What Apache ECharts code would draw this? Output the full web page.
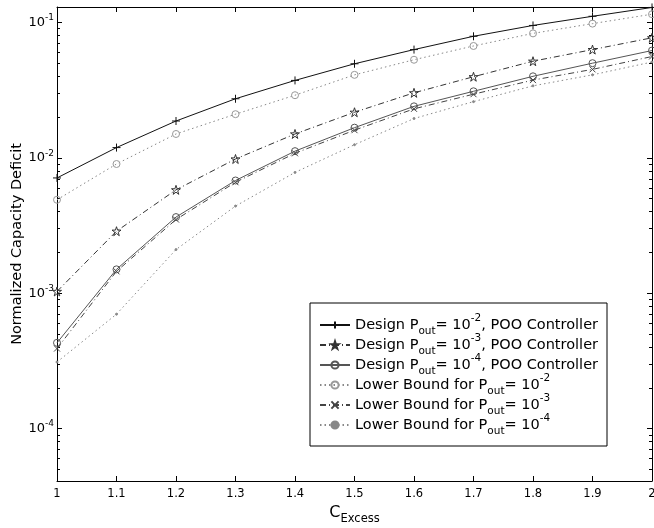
<!DOCTYPE html>
<html><head><meta charset="utf-8">
<script src="https://cdn.jsdelivr.net/npm/echarts@6/dist/echarts.min.js"></script>
<style>html,body{margin:0;padding:0;background:#fff}#c{width:654px;height:528px}</style>
</head><body><div id="c"></div>
<script>
const xValues = [1, 1.1, 1.2, 1.3, 1.4, 1.5, 1.6, 1.7, 1.8, 1.9, 2];
const design2 = [7.1e-3, 1.19e-2, 1.87e-2, 2.73e-2, 3.73e-2, 4.95e-2, 6.3e-2, 7.9e-2, 9.5e-2, 1.11e-1, 1.29e-1];
const design3 = [1.03e-3, 2.87e-3, 5.8e-3, 9.8e-3, 1.5e-2, 2.17e-2, 3.02e-2, 3.97e-2, 5.17e-2, 6.3e-2, 7.7e-2];
const design4 = [4.3e-4, 1.5e-3, 3.65e-3, 6.8e-3, 1.12e-2, 1.67e-2, 2.4e-2, 3.1e-2, 4.0e-2, 5.0e-2, 6.2e-2];
const lower2 = [4.9e-3, 9.0e-3, 1.5e-2, 2.1e-2, 2.9e-2, 4.1e-2, 5.3e-2, 6.7e-2, 8.3e-2, 9.8e-2, 1.15e-1];
const lower3 = [3.9e-4, 1.45e-3, 3.5e-3, 6.6e-3, 1.08e-2, 1.6e-2, 2.3e-2, 2.95e-2, 3.75e-2, 4.5e-2, 5.6e-2];
const lower4 = [3.1e-4, 7.0e-4, 2.1e-3, 4.4e-3, 7.8e-3, 1.25e-2, 1.95e-2, 2.6e-2, 3.4e-2, 4.1e-2, 5.1e-2];
const yMajorTicks = [1e-4, 1e-3, 1e-2, 1e-1];
const yMinorMult = [2, 3, 4, 5, 6, 7, 8, 9];
const xTickLabels = ['1', '1.1', '1.2', '1.3', '1.4', '1.5', '1.6', '1.7', '1.8', '1.9', '2'];
const seriesNames = ['d2', 'd3', 'd4', 'l2', 'l3', 'l4'];
const legendText = {
  d2: 'Design P{sub|out}= 10{sup|-2}, POO Controller',
  d3: 'Design P{sub|out}= 10{sup|-3}, POO Controller',
  d4: 'Design P{sub|out}= 10{sup|-4}, POO Controller',
  l2: 'Lower Bound for P{sub|out}= 10{sup|-2}',
  l3: 'Lower Bound for P{sub|out}= 10{sup|-3}',
  l4: 'Lower Bound for P{sub|out}= 10{sup|-4}'
};

const yMin = 4.1e-5, yMax = 0.13;
const lMin = Math.log10(yMin), lMax = Math.log10(yMax);
const majorLog = yMajorTicks.map(v => Math.log10(v));
const minorLog = [];
[1e-5, 1e-4, 1e-3, 1e-2, 1e-1].forEach(d => yMinorMult.forEach(m => {
  const v = m * d;
  if (v >= yMin && v <= yMax) minorLog.push(Math.log10(v));
}));

const FONT = 'DejaVu Sans, Liberation Sans, sans-serif';
const plus = 'path://M5,0V10M0,5H10';
const star = 'path://M5,0L6.2,3.8L10,3.8L6.9,6.1L8.1,10L5,7.6L1.9,10L3.1,6.1L0,3.8L3.8,3.8Z';
const cross = 'path://M0,0L10,10M10,0L0,10';
const ring = 'path://M10,5A5,5 0 1 1 0,5A5,5 0 1 1 10,5Z';

function mk(name, data, color, lineType, symbol, size, fill, mcolor) {
  return {
    name, type: 'line', xAxisIndex: 0, yAxisIndex: 0,
    data: xValues.map((x, i) => [x, data[i]]),
    symbol, symbolSize: size, showSymbol: true,
    lineStyle: { color, width: 1, type: lineType },
    itemStyle: { color: fill, borderColor: mcolor || color, borderWidth: 1 },
    emphasis: { disabled: true }, z: 3
  };
}

const clear = 'rgba(255,255,255,0)';
const series = [
  mk('d2', design2, '#111', 'solid', plus, 8, '#111'),
  mk('d3', design3, '#333', [6, 3, 1, 3], star, 9, clear),
  mk('d4', design4, '#555', 'solid', ring, 7, clear, '#555'),
  mk('l2', lower2, '#888', [1.5, 3], ring, 7, clear, '#999'),
  mk('l3', lower3, '#444', [6, 3, 1, 3], cross, 6, '#444'),
  mk('l4', lower4, '#888', [1.5, 3], 'circle', 2, '#888')
];

function tickAxis(pos, ticks, len, withLabels) {
  return {
    type: 'value', min: lMin, max: lMax, position: pos,
    axisLine: { show: false },
    axisTick: { show: true, inside: true, length: len, customValues: ticks, lineStyle: { color: '#000' } },
    axisLabel: withLabels ? {
      show: true, customValues: majorLog, margin: 3, color: '#000', fontFamily: FONT, fontSize: 13, lineHeight: 18,
      formatter: v => '10{s|' + Math.round(v) + '}',
      rich: { s: { fontSize: 9, fontFamily: FONT, color: '#000', lineHeight: 9, verticalAlign: 'top' } }
    } : { show: false },
    splitLine: { show: false }
  };
}

const option = {
  animation: false,
  backgroundColor: '#fff',
  grid: { left: 57, right: 2, top: 7, bottom: 47, show: false, outerBoundsMode: 'none', containLabel: false },
  xAxis: [
    {
      type: 'value', min: 1, max: 2, interval: 0.1, position: 'bottom',
      axisLine: { onZero: false, lineStyle: { color: '#000' } },
      axisTick: { inside: true, length: 5, lineStyle: { color: '#000' } },
      axisLabel: { color: '#000', fontFamily: FONT, fontSize: 11.5, margin: 7,
        formatter: v => xTickLabels[Math.round((v - 1) * 10)] },
      splitLine: { show: false },
      name: 'C{s|Excess}', nameLocation: 'middle', nameGap: 18,
      nameTextStyle: { color: '#000', fontFamily: FONT, fontSize: 16,
        rich: { s: { fontSize: 11.5, fontFamily: FONT, color: '#000', padding: [12, 0, 0, 0] } } }
    },
    {
      type: 'value', min: 1, max: 2, interval: 0.1, position: 'top',
      axisLine: { onZero: false, lineStyle: { color: '#000' } },
      axisTick: { inside: true, length: 5, lineStyle: { color: '#000' } },
      axisLabel: { show: false }, splitLine: { show: false }
    }
  ],
  yAxis: [
    {
      type: 'log', logBase: 10, min: yMin, max: yMax, position: 'left',
      axisLine: { show: true, lineStyle: { color: '#000' } },
      axisTick: { show: false }, axisLabel: { show: false }, splitLine: { show: false },
      name: 'Normalized Capacity Deficit', nameLocation: 'middle', nameGap: 32, nameRotate: 90,
      nameTextStyle: { color: '#000', fontFamily: FONT, fontSize: 14.5 }
    },
    {
      type: 'log', logBase: 10, min: yMin, max: yMax, position: 'right',
      axisLine: { show: true, lineStyle: { color: '#000' } },
      axisTick: { show: false }, axisLabel: { show: false }, splitLine: { show: false }
    },
    tickAxis('left', majorLog, 5, true),
    tickAxis('left', minorLog, 3, false),
    tickAxis('right', majorLog, 5, false),
    tickAxis('right', minorLog, 3, false)
  ],
  legend: {
    data: seriesNames, orient: 'vertical', left: 310, top: 303,
    backgroundColor: '#fff', borderColor: '#000', borderWidth: 1,
    padding: [10, 9, 9, 9], itemGap: -4, itemWidth: 30, itemHeight: 9,
    selectedMode: false,
    formatter: n => legendText[n],
    textStyle: { color: '#000', fontFamily: FONT, fontSize: 14.5, lineHeight: 24,
      rich: {
        sub: { fontSize: 10.5, fontFamily: FONT, color: '#000', lineHeight: 10, verticalAlign: 'bottom' },
        sup: { fontSize: 10.5, fontFamily: FONT, color: '#000', lineHeight: 10, verticalAlign: 'top' }
      } }
  },
  series
};
const chart = echarts.init(document.getElementById('c'), null, { renderer: 'canvas' });
chart.setOption(option);
</script></body></html>
